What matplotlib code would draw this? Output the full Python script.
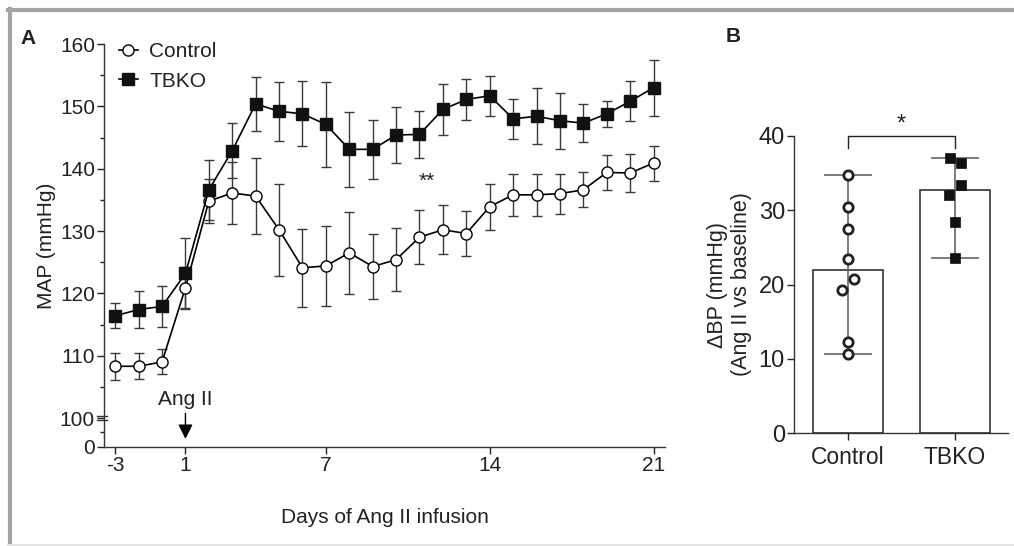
import numpy as np
import matplotlib
matplotlib.use("Agg")
import matplotlib.pyplot as plt
from matplotlib.lines import Line2D

plt.rcParams['font.family'] = ['Liberation Sans', 'DejaVu Sans']
plt.rcParams['text.color'] = '#222222'
plt.rcParams['axes.labelcolor'] = '#222222'
plt.rcParams['xtick.color'] = '#222222'
plt.rcParams['ytick.color'] = '#222222'

### Panel A data (MAP, mean +/- SEM)
days = [-3, -2, -1, 1, 2, 3, 4, 5, 6, 7, 8, 9, 10, 11, 12, 13, 14, 15, 16, 17, 18, 19, 20, 21]
control_map = [108.3, 108.3, 109.0, 120.9, 134.8, 136.1, 135.6, 130.2, 124.1, 124.4, 126.5, 124.3,
               125.4, 129.0, 130.2, 129.6, 133.9, 135.8, 135.8, 136.0, 136.6, 139.4, 139.3, 140.9]
control_sem = [2.2, 2.1, 2.0, 3.4, 3.5, 5.0, 6.1, 7.4, 6.3, 6.4, 6.6, 5.2,
               5.1, 4.3, 3.9, 3.6, 3.7, 3.4, 3.4, 3.2, 2.8, 2.8, 3.1, 2.8]
tbko_map = [116.4, 117.4, 117.9, 123.2, 136.6, 142.9, 150.4, 149.2, 148.8, 147.1, 143.1, 143.1,
            145.4, 145.5, 149.5, 151.1, 151.7, 148.0, 148.4, 147.7, 147.3, 148.8, 150.8, 153.0]
tbko_sem = [2.0, 2.9, 3.3, 5.6, 4.8, 4.4, 4.3, 4.7, 5.2, 6.8, 6.0, 4.7,
            4.5, 3.8, 4.1, 3.3, 3.2, 3.2, 4.5, 4.5, 3.1, 2.1, 3.2, 4.5]
day_ticks = [-3, 1, 7, 14, 21]

### Panel B data (delta BP)
groups = ['Control', 'TBKO']
bar_means = [22.0, 32.7]
control_pts = [34.8, 30.4, 27.5, 23.4, 20.7, 19.3, 12.2, 10.6]
control_jit = [0, 0, 0, 0, 0.06, -0.06, 0, 0]
tbko_pts = [37.1, 36.3, 33.4, 32.0, 28.4, 23.6]
tbko_jit = [-0.05, 0.06, 0.06, -0.06, 0, 0]


def day_pos(d):  # no day 0 on the axis
    return d + 3 if d < 0 else d + 2


fig = plt.figure(figsize=(10.14, 5.46), dpi=100)
W, H = 1014.0, 546.0

### Panel A
axA = fig.add_axes([104 / W, 1 - 447 / H, 561 / W, 403 / H])
x = [day_pos(d) for d in days]
axA.errorbar(x, control_map, yerr=control_sem, fmt='none', ecolor='#3a3a3a',
             elinewidth=1.0, capsize=3.6, capthick=1.0, zorder=2)
axA.errorbar(x, tbko_map, yerr=tbko_sem, fmt='none', ecolor='#3a3a3a',
             elinewidth=1.0, capsize=3.6, capthick=1.0, zorder=2)
axA.plot(x, control_map, '-o', color='black', lw=1.2, ms=8, mfc='white', mec='black',
         mew=1.0, label='Control', zorder=3)
axA.plot(x, tbko_map, '-s', color='black', lw=1.2, ms=8, mfc='#111111', mec='#111111',
         label='TBKO', zorder=4)

y0 = 95.35  # where "0" sits below the axis break
axA.set_ylim(y0, 160)
axA.set_xlim(-0.48, 23.49)
axA.set_yticks([y0, 100, 110, 120, 130, 140, 150, 160])
axA.set_yticklabels(['0', '100', '110', '120', '130', '140', '150', '160'])
axA.set_yticks([97.7, 105, 115, 125, 135, 145, 155], minor=True)
axA.set_xticks([day_pos(d) for d in day_ticks])
axA.set_xticklabels([str(d) for d in day_ticks])
axA.tick_params(labelsize=15, width=1.0, length=5, pad=1.5)
axA.tick_params(which='minor', width=1.0, length=3)
for s in ['top', 'right']:
    axA.spines[s].set_visible(False)
for s in ['left', 'bottom']:
    axA.spines[s].set_linewidth(1.0)
    axA.spines[s].set_color('#333333')

# axis break marks at 100
yb = (100 - y0) / (160 - y0)
for dy in (-0.005, 0.005):
    axA.plot([-0.012, 0.005], [yb + dy, yb + dy], transform=axA.transAxes,
             color='#333333', lw=1.0, clip_on=False)

axA.set_ylabel('MAP (mmHg)', fontsize=15, labelpad=3)
axA.set_xlabel('Days of Ang II infusion', fontsize=15, labelpad=24)
axA.text(day_pos(12) - 0.7, 138.0, '**', fontsize=15, ha='center', va='center')
axA.annotate('', xy=(day_pos(1), 96.2), xytext=(day_pos(1), 101.2),
             arrowprops=dict(arrowstyle='-|>', color='black', lw=1.0, mutation_scale=22))
axA.text(day_pos(1), 101.5, 'Ang II', fontsize=15, ha='center', va='bottom')
axA.legend(loc='upper left', bbox_to_anchor=(0.012, 1.025), frameon=False, fontsize=15,
           handlelength=0.9, handletextpad=0.55, labelspacing=0.5, borderaxespad=0)

### Panel B
axB = fig.add_axes([794 / W, 1 - 433 / H, 214 / W, 297 / H])
pos = np.arange(len(groups))
axB.bar(pos, bar_means, width=0.66, color='white', edgecolor='#222222', linewidth=1.1, zorder=1)
pts = [control_pts, tbko_pts]
for i, p in enumerate(pts):
    axB.errorbar(pos[i], (min(p) + max(p)) / 2, yerr=(max(p) - min(p)) / 2, fmt='none',
                 ecolor='#666666', elinewidth=1.2, capsize=17, capthick=1.2, zorder=2)
axB.scatter(pos[0] + np.array(control_jit), control_pts, s=45, facecolor='white',
            edgecolor='#222222', linewidth=2.0, zorder=3)
axB.scatter(pos[1] + np.array(tbko_jit), tbko_pts, s=45, marker='s', facecolor='#111111',
            edgecolor='#111111', linewidth=0.5, zorder=3)
axB.set_xlim(-0.505, 1.495)
axB.set_ylim(0, 40)
axB.set_yticks([0, 10, 20, 30, 40])
axB.set_xticks(pos)
axB.set_xticklabels(groups)
axB.tick_params(axis='y', labelsize=17, width=1.0, length=5, pad=1.5)
axB.tick_params(axis='x', labelsize=16.5, width=1.0, length=5, pad=4)
for s in ['top', 'right']:
    axB.spines[s].set_visible(False)
for s in ['left', 'bottom']:
    axB.spines[s].set_linewidth(1.0)
    axB.spines[s].set_color('#333333')
axB.set_ylabel('ΔBP (mmHg)\n(Ang II vs baseline)', fontsize=15.5, labelpad=5, linespacing=1.15)
axB.plot([pos[0], pos[0], pos[1], pos[1]], [38.4, 40, 40, 38.4], color='#222222', lw=1.0,
         clip_on=False)
axB.text((pos[0] + pos[1]) / 2, 41.6, '*', fontsize=17, ha='center', va='center')

### Panel letters
fig.text(28 / W, 1 - 38 / H, 'A', fontsize=15, fontweight='bold', ha='center', va='center')
fig.text(733 / W, 1 - 36 / H, 'B', fontsize=15, fontweight='bold', ha='center', va='center')

### Gray frame
fig.add_artist(Line2D([8 / W, 1], [1 - 10.3 / H, 1 - 10.3 / H], color='#a4a4a4', lw=3))
fig.add_artist(Line2D([9.5 / W, 9.5 / W], [0, 1 - 9 / H], color='#a4a4a4', lw=3))
fig.add_artist(Line2D([8 / W, 1], [1.5 / H, 1.5 / H], color='#e4e4e4', lw=1.5))

fig.savefig('out.png', dpi=100)
plt.close()
